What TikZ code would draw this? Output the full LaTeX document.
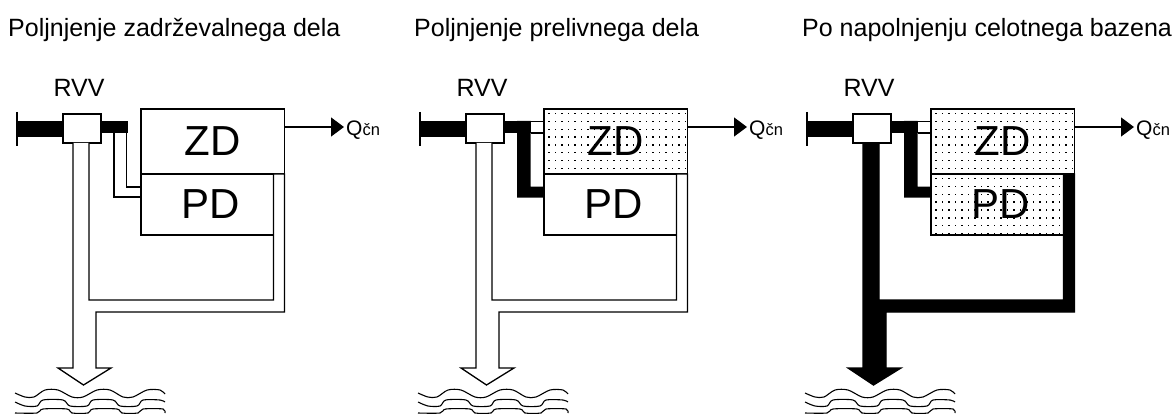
\documentclass[tikz,border=0pt]{standalone}
\usepackage{fontspec}
\setmainfont{Liberation Sans}
\usetikzlibrary{arrows.meta}
\tikzset{
	whitebox/.style={draw=black,line width=1.3pt,fill=white,rectangle,inner sep=0pt,outer sep=0pt,anchor=north west,font=\fontsize{42}{44}\selectfont},
	dotbox/.style={whitebox,path picture={\foreach \i in {0,...,22} \foreach \j in {0,...,10} \fill[black] ([shift={(\i*6.5+4,\j*7.8+4)}]path picture bounding box.north west) rectangle +(1.5,1.5);}},
	titletext/.style={anchor=base west,inner sep=0pt,font=\fontsize{25}{27}\selectfont},
	rvvtext/.style={anchor=base,inner sep=0pt,font=\fontsize{25}{27}\selectfont},
	qtext/.style={anchor=base west,inner sep=0pt,font=\fontsize{16.5}{18}\selectfont},
	pipe/.style={line width=1.3pt},
	qline/.style={line width=1.3pt,-{Triangle[length=13pt,width=19pt]}},
	wave/.style={line width=1.1pt,smooth}
}
\begin{document}
\begin{tikzpicture}[x=1pt,y=-1pt]
	\useasboundingbox (0,0) rectangle (1174,414);
	\node[titletext] (titlea) at (8,37) {Poljnjenje zadrževalnega dela};
	\node[titletext] (titleb) at (414,37) {Poljnjenje prelivnega dela};
	\node[titletext] (titlec) at (802,37) {Po napolnjenju celotnega bazena};
	\foreach \n/\dx/\zdstyle/\pdstyle/\outfill in {a/0/whitebox/whitebox/white,b/403/dotbox/whitebox/white,c/790/dotbox/dotbox/black}{
		\begin{scope}[xshift=\dx pt]
			\draw[pipe] (17,112) -- (17,146);
			\fill (17,121) rectangle (64,137);
			\fill (100,121) rectangle (128,133);
			\node[style/.expanded=\zdstyle,minimum width=143.5pt,minimum height=65pt] (zd\n) at (141,109) {ZD};
			\node[style/.expanded=\pdstyle,minimum width=132.5pt,minimum height=61pt] (pd\n) at (141,174) {\hspace*{6pt}PD};
			\node[whitebox,minimum width=38pt,minimum height=29pt] (rv\n) at (63,114) {};
			\node[rvvtext] (rvv\n) at (79,97) {RVV};
			\coordinate (tip\n) at (344,127);
			\draw[qline] (zd\n.east |- tip\n) -- (tip\n);
			\node[qtext] (q\n) at (346,136) {{\fontsize{21}{23}\selectfont Q}čn};
			\draw[pipe,fill=\outfill] (73,143) -- (73,368) -- (58,368) -- (83.5,385) -- (111,368) -- (96,368) -- (96,312) -- (284.5,312) -- (284.5,174) -- (273.5,174) -- (273.5,300) -- (89,300) -- (89,143);
			\draw[wave] plot coordinates {(15,393) (25,397) (34,397) (45,390) (58,390) (72,397) (83,397) (97,390) (110,390) (123,397) (133,397) (147,390) (160,390) (165,394)};
			\draw[wave] plot coordinates {(15,402) (25,406) (37,406) (43,400) (63,400) (70,406) (87,406) (93,400) (113,400) (120,406) (137,406) (143,400) (160,400) (165,402)};
			\draw[wave] plot coordinates {(15,413) (37,413) (43,409) (67,409) (72,413) (88,413) (93,409) (117,409) (122,413) (138,413) (143,409) (163,409) (165,413)};
		\end{scope}
	}
	\draw[pipe] (114,133) -- (114,197) -- (pda.west |- 0,197);
	\draw[pipe] (126.5,133) -- (126.5,187) -- (pda.west |- 0,187);
	\foreach \n/\dx in {b/403,c/790}{
		\begin{scope}[xshift=\dx pt]
			\fill (114,121) -- (127.7,121) -- (127.7,186.5) -- (141,186.5) -- (141,197.5) -- (114,197.5) -- cycle;
			\draw[pipe] (127.7,121.5) -- (141,121.5);
			\draw[pipe] (127.7,133) -- (141,133);
		\end{scope}
	}
\end{tikzpicture}
\end{document}
